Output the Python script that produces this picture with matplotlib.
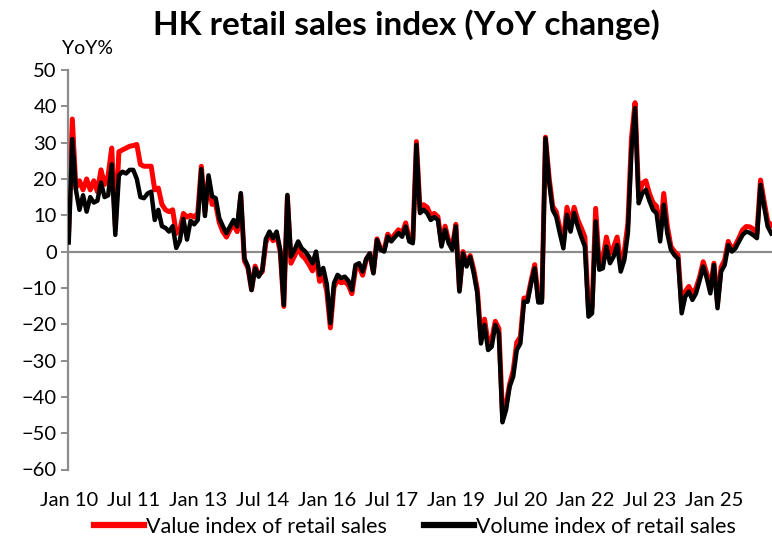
import numpy as np
import matplotlib
matplotlib.use("Agg")
import matplotlib.pyplot as plt
from matplotlib.lines import Line2D

plt.rcParams['font.family'] = ['Lato', 'DejaVu Sans']

# Monthly YoY % change, Jan 2010 onwards
value_yoy = [
    6, 36.5, 17.5, 19.5, 17, 20, 17, 19.5, 16.5, 22.5, 18.5, 21,            # 2010
    28.5, 7, 27.5, 28, 28.5, 29, 29.2, 29.5, 24, 23.5, 23.5, 23.5,          # 2011
    17, 17.5, 13, 11.5, 11, 11.5, 5, 6, 10.5, 9.5, 10, 9.5,                 # 2012
    10.5, 23.5, 11, 20, 13, 13, 8, 5.5, 4, 6, 7.5, 5.5,                     # 2013
    15.5, -2.5, -4.5, -10.5, -4, -6.5, -5.5, 2.5, 5, 3, 4.5, 0,             # 2014
    -15.1, 15.2, -3.2, -1.2, 1, -1, -2, -3.5, -5.3, -2, -8.2, -6.5,         # 2015
    -11, -21, -9.8, -7.8, -8.6, -8.3, -9.2, -11.6, -4.8, -4.2, -6.5, -2.2,  # 2016
    -0.6, -5.7, 3.5, 0.8, 0.5, 4.8, 3.4, 4.8, 6, 5, 7.9, 3.5,               # 2017
    3.2, 30.3, 11.5, 12.9, 12.2, 10, 10.5, 9.6, 2.2, 7, 3, 1.2,             # 2018
    7.5, -10.5, 0, -3.4, -1.1, -5, -10.5, -23.6, -18.6, -25.2, -24.2, -19.2,  # 2019
    -21.2, -44.5, -42.2, -36.5, -32.8, -25, -23.5, -12.8, -12.8, -8, -3.6, -13,  # 2020
    -13, 31.5, 20.5, 12.5, 11, 6.5, 2.8, 12.2, 7.4, 12.2, 8.8, 6.5,         # 2021
    4, -16, -15.5, 11.9, -4, -2, 4, -0.5, 1.2, 4, -3.2, 0,                  # 2022
    7.8, 31.3, 41, 15, 18.8, 19.5, 16, 13.5, 12.5, 5, 16, 7,                # 2023
    1.4, 0, -1, -15.2, -11, -9.6, -11.5, -10.1, -7, -2.8, -6, -10,          # 2024
    -3.2, -14.2, -4.3, -2.3, 2.8, 0.7, 1.8, 3.8, 6, 6.9, 6.8, 6.2,          # 2025
    5, 19.7, 13.8, 8.3, 7.3,                                                # 2026
]
volume_yoy = [
    2.5, 31, 17, 11.5, 15.5, 11, 15, 13.5, 14, 19, 15, 15.5,                # 2010
    24, 4.6, 21, 22, 21.5, 22.5, 22.5, 20, 15, 14.7, 16, 16.5,              # 2011
    8.7, 11.5, 7, 6.5, 5.5, 7, 1, 3, 9, 3.3, 8.5, 7.5,                      # 2012
    8.7, 22.7, 9.8, 21, 15.2, 14.7, 9.2, 7, 5.1, 6.9, 8.7, 6.9,             # 2013
    16.1, -1.8, -4.1, -10.6, -4.6, -6.9, -5.1, 3.5, 5.5, 3.7, 5.5, 0.5,     # 2014
    -14.7, 15.6, -1.4, 0.5, 2.8, 0.9, 0, -1.4, -3.2, 0, -6.4, -4.5,         # 2015
    -9, -19.7, -8.7, -6.4, -7.3, -6.9, -8, -10.6, -3.7, -3.2, -5.5, -2,     # 2016
    -0.5, -6, 3.2, 0.5, 0, 4.1, 2.8, 4, 5.1, 4.1, 6.9, 2.8,                 # 2017
    2.3, 29.4, 10.6, 11.5, 10.6, 8.7, 9.5, 8.7, 1.4, 6, 2.3, 0.5,           # 2018
    6.9, -11, -0.5, -4.1, -1.5, -6, -11.5, -25.3, -20.2, -27.1, -26.2, -20.2,  # 2019
    -22.5, -47, -43.6, -37.2, -34.4, -27.1, -25.3, -13.8, -13.8, -8.7, -4.6, -14,  # 2020
    -14, 31.2, 19.3, 11.5, 9.6, 5.1, 0.9, 10.1, 5.5, 10.6, 7, 4,            # 2021
    1.4, -17.9, -17, 8.3, -5, -4.6, 1.4, -3.2, -1.4, 1.8, -5.5, -2.3,       # 2022
    5.1, 28, 39.5, 13.3, 16, 17, 14, 11.5, 10.5, 2.8, 12.9, 5,              # 2023
    0.5, -1, -2, -17, -12.4, -11, -13.3, -11.5, -8, -4.1, -7.3, -11.5,      # 2024
    -3.7, -15.6, -5.5, -3.7, 1.8, 0, 0.9, 2.8, 4.6, 5.5, 5.2, 4.5,          # 2025
    3.7, 18.4, 12.4, 6.9, 5,                                                # 2026
]
tick_labels = ["Jan 10", "Jul 11", "Jan 13", "Jul 14", "Jan 16", "Jul 17",
               "Jan 19", "Jul 20", "Jan 22", "Jul 23", "Jan 25"]
label_every = 18  # months between axis labels

W, H = 772, 538
fig = plt.figure(figsize=(W / 100, H / 100), dpi=100)
ax = fig.add_axes([68 / W, 1 - 469.5 / H, (W - 68) / W, (469.5 - 70) / H])

months = np.arange(len(volume_yoy))
ax.axhline(0, color='#8c8c8c', lw=1.6, zorder=1)
ax.plot(months, value_yoy, color='#ff0000', lw=3.6, zorder=2,
        solid_joinstyle='round')
ax.plot(months, volume_yoy, color='#000000', lw=3.2, zorder=3,
        solid_joinstyle='round')

ax.set_xlim(-0.2, len(volume_yoy) - 0.8)
ax.set_ylim(-60, 50)
ax.set_yticks(np.arange(-60, 51, 10))
ax.set_xticks(np.arange(0, len(tick_labels) * label_every, label_every))
ax.set_xticklabels(tick_labels)

for s in ['top', 'right', 'bottom']:
    ax.spines[s].set_visible(False)
ax.spines['left'].set_color('#8c8c8c')
ax.spines['left'].set_linewidth(1.6)
ax.tick_params(axis='y', direction='out', length=5, width=1.4, color='#8c8c8c',
               labelsize=14.5, pad=3)
ax.tick_params(axis='x', length=0, labelsize=14.5, pad=16)

fig.text(0.527, 1 - 25 / H, "HK retail sales index (YoY change)", ha='center',
         va='center', fontsize=24, fontweight='bold')
fig.text(62 / W, 1 - 48 / H, "YoY%", ha='left', va='center', fontsize=14)

handles = [Line2D([], [], color='#ff0000', lw=4.5),
           Line2D([], [], color='#000000', lw=4.5)]
fig.legend(handles, ["Value index of retail sales", "Volume index of retail sales"],
           loc='center', bbox_to_anchor=(415 / W, 1 - 527 / H), ncol=2,
           frameon=False, fontsize=15.5, handlelength=2.3, handletextpad=0.1,
           columnspacing=1.75, borderaxespad=0, borderpad=0)

fig.savefig("out.png", dpi=100)
